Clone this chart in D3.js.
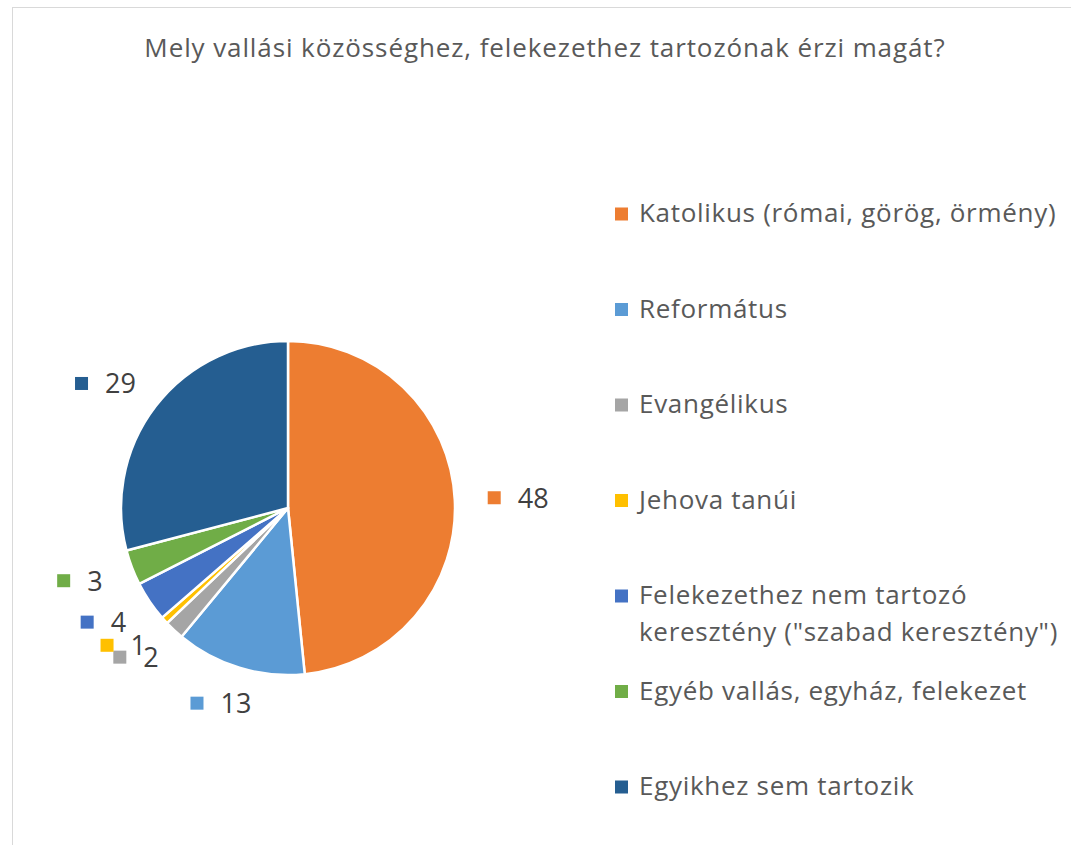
<!DOCTYPE html>
<html>
<head>
<meta charset="utf-8">
<script src="https://cdn.jsdelivr.net/npm/d3@7"></script>
<style>
  body { margin: 0; background: #fff; }
  svg { display: block; }
  text { font-family: "Open Sans", "Noto Sans", sans-serif; }
</style>
</head>
<body>
<svg id="chart" width="1071" height="845"></svg>
<script>
// Vallási hovatartozás – kördiagram

const title = "Mely vallási közösséghez, felekezethez tartozónak érzi magát?";

const categories = [
    "Katolikus (római, görög, örmény)",
    "Református",
    "Evangélikus",
    "Jehova tanúi",
    "Felekezethez nem tartozó keresztény (\"szabad keresztény\")",
    "Egyéb vallás, egyház, felekezet",
    "Egyikhez sem tartozik"
];

// legend text broken into lines like in the original
const legendLines = [
    ["Katolikus (római, görög, örmény)"],
    ["Református"],
    ["Evangélikus"],
    ["Jehova tanúi"],
    ["Felekezethez nem tartozó", "keresztény (\"szabad keresztény\")"],
    ["Egyéb vallás, egyház, felekezet"],
    ["Egyikhez sem tartozik"]
];

const values = [48.4, 12.6, 1.9, 0.7, 3.9, 3.4, 29.1];

const colors = ["#ED7D31", "#5B9BD5", "#A5A5A5", "#FFC000", "#4472C4", "#70AD47", "#255E91"];

function drawChart() {
    const svg = d3.select("#chart");
    svg.selectAll("*").remove();

    // chart area border (only top + left visible)
    svg.append("rect")
        .attr("x", 12.5)
        .attr("y", 7.5)
        .attr("width", 1200)
        .attr("height", 1000)
        .attr("fill", "#fff")
        .attr("stroke", "#d9d9d9")
        .attr("stroke-width", 1);

    svg.append("text")
        .attr("x", 545)
        .attr("y", 57)
        .attr("text-anchor", "middle")
        .attr("font-size", "26px")
        .attr("letter-spacing", "0.9px")
        .attr("fill", "#595959")
        .text(title);

    const cx = 288, cy = 508, r = 167;

    const pie = d3.pie().sort(null).value(d => d);
    const arcs = pie(values);
    const arc = d3.arc().innerRadius(0).outerRadius(r);

    const g = svg.append("g").attr("transform", `translate(${cx},${cy})`);

    g.selectAll("path.slice")
        .data(arcs)
        .enter()
        .append("path")
        .attr("class", "slice")
        .attr("d", arc)
        .attr("fill", (d, i) => colors[i])
        .attr("stroke", "#fff")
        .attr("stroke-width", 2.5)
        .attr("stroke-linejoin", "round");

    // data labels with legend key, outside end
    const labelFont = 27;
    const keySize = 13;
    const keyGap = 17;
    const labels = g.selectAll("g.label")
        .data(arcs)
        .enter()
        .append("g")
        .attr("class", "label");

    labels.each(function (d, i) {
        const lg = d3.select(this);
        const txt = lg.append("text")
            .attr("font-size", labelFont + "px")
            .attr("fill", "#404040")
            .text(d3.format(".0f")(d.data));
        const tw = txt.node().getComputedTextLength();
        const w = keySize + keyGap + tw;
        const h = 8;
        const a = (d.startAngle + d.endAngle) / 2;
        const s = Math.sin(a), c = Math.cos(a);
        const rr = r + 33;
        const mx = rr * s + (w / 2) * s;
        const my = -rr * c - (h / 2) * c;
        const left = mx - w / 2;
        lg.append("rect")
            .attr("x", left)
            .attr("y", my - keySize / 2)
            .attr("width", keySize)
            .attr("height", keySize)
            .attr("fill", colors[i]);
        txt.attr("x", left + keySize + keyGap).attr("y", my + 10);
    });

    // legend
    const legendY = d3.scalePoint()
        .domain(d3.range(categories.length))
        .range([222, 795]);

    const legend = svg.append("g").attr("class", "legend");
    const items = legend.selectAll("g.item")
        .data(legendLines)
        .enter()
        .append("g")
        .attr("class", "item")
        .attr("transform", (d, i) => `translate(0,${legendY(i)})`);

    items.append("rect")
        .attr("x", 615)
        .attr("y", -14.5)
        .attr("width", 13)
        .attr("height", 13)
        .attr("fill", (d, i) => colors[i]);

    items.each(function (lines) {
        const t = d3.select(this).append("text")
            .attr("font-size", "26px")
            .attr("letter-spacing", "0.7px")
            .attr("fill", "#595959");
        lines.forEach((ln, j) => {
            t.append("tspan")
                .attr("x", 639)
                .attr("y", j * 37)
                .text(ln);
        });
    });
}

drawChart();
</script>
</body>
</html>
